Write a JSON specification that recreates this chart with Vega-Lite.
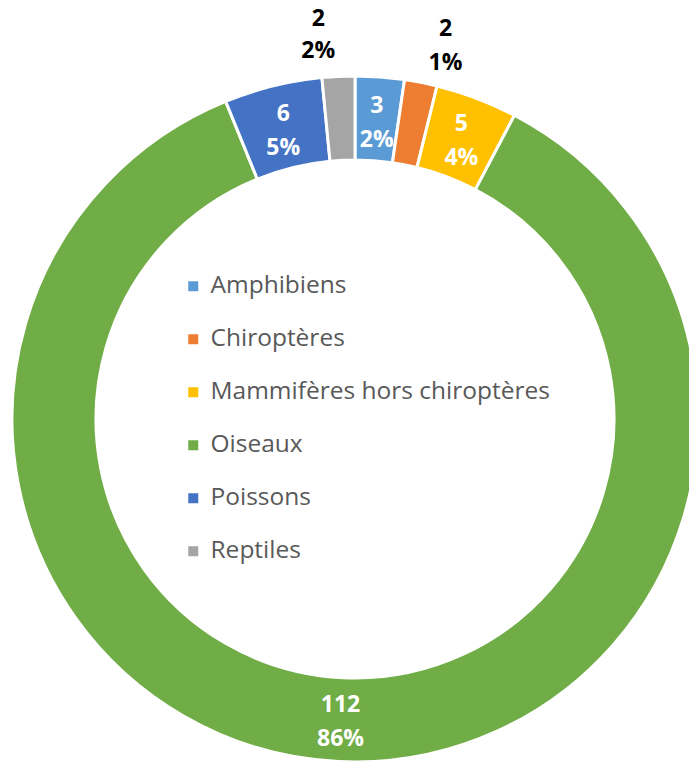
{
  "$schema": "https://vega.github.io/schema/vega-lite/v6.json",
  "width": 668,
  "height": 684,
  "padding": {"left": 21, "top": 77, "right": 0, "bottom": 0},
  "autosize": "none",
  "background": "white",
  "config": {"view": {"stroke": null}},
  "data": {"values": [
    {"cat": "Amphibiens", "n": 3, "label": "3\n2%"},
    {"cat": "Chiroptères", "n": 2, "label": "2\n1%"},
    {"cat": "Mammifères hors chiroptères", "n": 5, "label": "5\n4%"},
    {"cat": "Oiseaux", "n": 112, "label": "112\n86%"},
    {"cat": "Poissons", "n": 6, "label": "6\n5%"},
    {"cat": "Reptiles", "n": 2, "label": "2\n2%"}
  ]},
  "encoding": {
    "theta": {"field": "n", "type": "quantitative", "stack": true},
    "order": {"field": "cat", "type": "nominal"}
  },
  "layer": [
    {
      "mark": {"type": "arc", "outerRadius": 343, "innerRadius": 259, "stroke": "white", "strokeWidth": 3},
      "encoding": {
        "color": {
          "field": "cat", "type": "nominal",
          "scale": {
            "domain": ["Amphibiens", "Chiroptères", "Mammifères hors chiroptères", "Oiseaux", "Poissons", "Reptiles"],
            "range": ["#5B9BD5", "#ED7D31", "#FFC000", "#70AD47", "#4472C4", "#A5A5A5"]
          },
          "legend": {
            "orient": "none", "legendX": 160, "legendY": 197, "title": null,
            "symbolType": "square", "symbolSize": 100, "symbolStrokeWidth": 0,
            "labelFontSize": 24.5, "labelColor": "#595959", "labelFont": "Open Sans",
            "rowPadding": 28, "labelOffset": 5, "padding": 0, "labelLimit": 500
          }
        }
      }
    },
    {
      "mark": {"type": "text", "radius": 300, "dy": -14, "fontSize": 23, "fontWeight": "bold", "font": "Open Sans", "lineBreak": "\n", "lineHeight": 34, "align": "center", "baseline": "middle"},
      "encoding": {
        "detail": {"field": "cat", "type": "nominal"},
        "color": {"value": "white"},
        "text": {"condition": {"test": "datum.n > 2", "field": "label"}, "value": ""}
      }
    },
    {
      "mark": {"type": "text", "radius": 388, "dx": -18, "dy": -12, "fontSize": 23, "fontWeight": "bold", "font": "Open Sans", "lineBreak": "\n", "lineHeight": 32, "align": "center", "baseline": "middle"},
      "encoding": {
        "detail": {"field": "cat", "type": "nominal"},
        "color": {"value": "black"},
        "text": {"condition": {"test": "datum.cat === 'Reptiles'", "field": "label"}, "value": ""}
      }
    },
    {
      "mark": {"type": "text", "radius": 388, "dx": 16, "dy": -9, "fontSize": 23, "fontWeight": "bold", "font": "Open Sans", "lineBreak": "\n", "lineHeight": 34, "align": "center", "baseline": "middle"},
      "encoding": {
        "detail": {"field": "cat", "type": "nominal"},
        "color": {"value": "black"},
        "text": {"condition": {"test": "datum.cat === 'Chiroptères'", "field": "label"}, "value": ""}
      }
    }
  ]
}
